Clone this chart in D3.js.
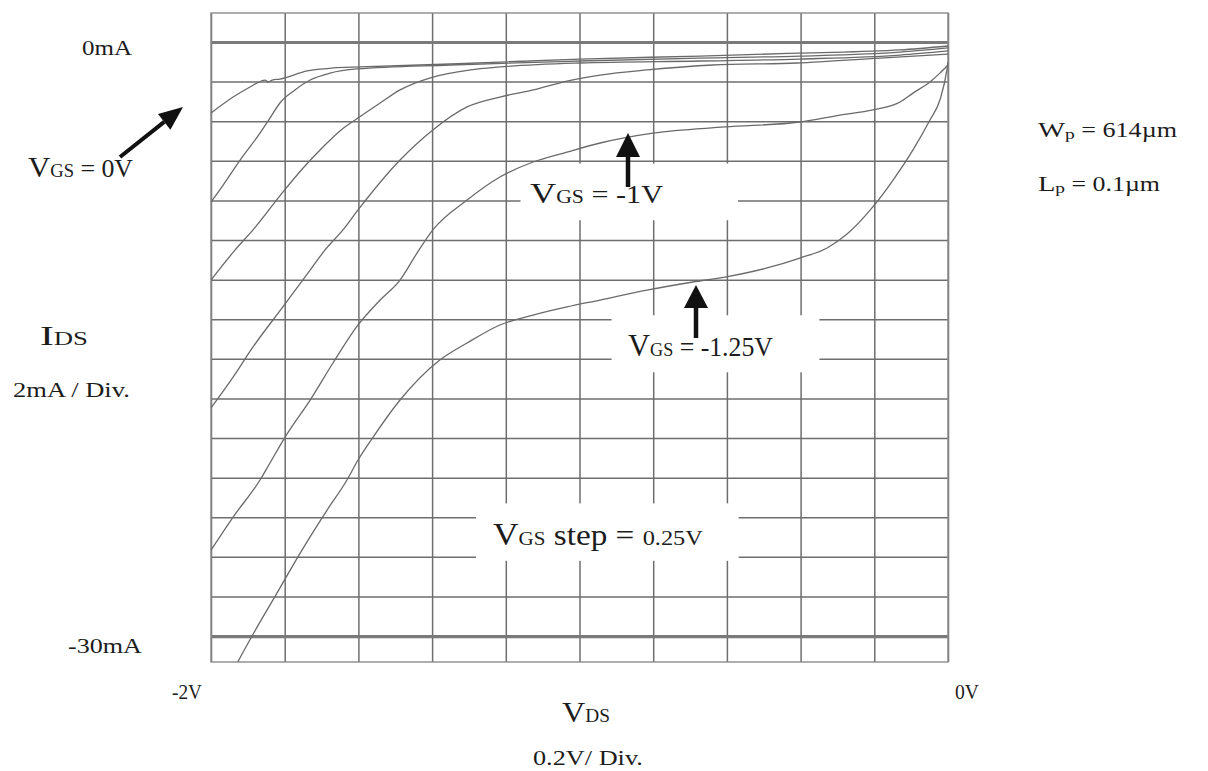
<!DOCTYPE html>
<html>
<head>
<meta charset="utf-8">
<script src="https://cdn.jsdelivr.net/npm/d3@7"></script>
<style>
  html, body { margin: 0; padding: 0; background: #fff; }
  svg { display: block; }
  text { font-family: "Liberation Serif", "Times New Roman", serif; fill: #1c1c1c; }
</style>
</head>
<body>
<svg id="chart" width="1208" height="771"></svg>
<script>
// Measured I-V traces of a p-channel device, VDS in volts, IDS in mA
const vgsSteps = ["0V", "-0.25V", "-0.5V", "-0.75V", "-1V", "-1.25V"];

const traceVgs0 = [[-2.000,-3.59],[-1.940,-2.78],[-1.894,-2.27],[-1.853,-1.92],[-1.845,-2.02],[-1.834,-1.92],
  [-1.813,-1.87],[-1.739,-1.46],[-1.669,-1.31],[-1.596,-1.26],[-1.351,-1.11],[-0.999,-0.86],[-0.673,-0.71],
  [-0.402,-0.56],[-0.130,-0.40],[0.000,-0.20]];
const traceVgs025 = [[-2.000,-8.08],[-1.976,-7.47],[-1.921,-5.96],[-1.867,-4.60],[-1.840,-3.84],[-1.813,-3.08],
  [-1.772,-2.42],[-1.731,-1.92],[-1.677,-1.57],[-1.604,-1.36],[-1.351,-1.16],[-0.999,-0.96],[-0.673,-0.81],
  [-0.402,-0.71],[-0.130,-0.51],[0.000,-0.30]];
const traceVgs050 = [[-2.000,-12.02],[-1.935,-10.51],[-1.886,-9.49],[-1.805,-7.58],[-1.750,-6.36],[-1.696,-5.30],
  [-1.650,-4.49],[-1.601,-3.84],[-1.541,-3.08],[-1.487,-2.42],[-1.398,-1.77],[-1.297,-1.41],[-1.216,-1.26],
  [-0.999,-1.06],[-0.673,-0.96],[-0.402,-0.86],[-0.130,-0.66],[0.000,-0.45]];
const traceVgs075 = [[-2.000,-18.48],[-1.940,-16.92],[-1.886,-15.40],[-1.805,-13.38],[-1.731,-11.52],[-1.691,-10.51],
  [-1.642,-9.49],[-1.601,-8.48],[-1.487,-5.96],[-1.398,-4.44],[-1.305,-3.28],[-1.216,-2.78],[-1.126,-2.42],
  [-1.034,-1.97],[-0.944,-1.67],[-0.817,-1.41],[-0.638,-1.16],[-0.410,-1.06],[-0.185,-0.81],[0.000,-0.61]];
const traceVgs100 = [[-2.000,-25.66],[-1.940,-23.99],[-1.867,-22.12],[-1.840,-21.26],[-1.799,-19.95],[-1.731,-18.08],
  [-1.669,-16.21],[-1.601,-14.29],[-1.541,-13.03],[-1.487,-12.02],[-1.441,-10.66],[-1.398,-9.49],[-1.305,-7.98],
  [-1.216,-6.82],[-1.126,-6.06],[-1.034,-5.56],[-0.944,-5.10],[-0.801,-4.60],[-0.605,-4.29],[-0.402,-4.04],
  [-0.293,-3.69],[-0.204,-3.43],[-0.130,-3.03],[-0.095,-2.58],[-0.049,-2.02],[-0.022,-1.57],[0.000,-1.16]];
const traceVgs125 = [[-1.929,-31.36],[-1.875,-29.55],[-1.821,-27.83],[-1.758,-25.81],[-1.685,-23.64],[-1.631,-22.12],
  [-1.601,-21.11],[-1.560,-19.95],[-1.487,-18.08],[-1.379,-16.06],[-1.305,-15.20],[-1.216,-14.29],[-1.126,-13.79],
  [-1.034,-13.38],[-0.944,-13.03],[-0.817,-12.53],[-0.692,-12.12],[-0.605,-11.87],[-0.491,-11.41],[-0.402,-10.91],
  [-0.328,-10.40],[-0.274,-9.70],[-0.204,-8.33],[-0.149,-6.97],[-0.095,-5.45],[-0.049,-3.94],[-0.022,-2.93],
  [-0.003,-1.41],[0.000,-1.01]];

const traces = [traceVgs0, traceVgs025, traceVgs050, traceVgs075, traceVgs100, traceVgs125];

// Graticule: 0.2 V per division across, 2 mA per division down
const vdsGrid = [-2.0,-1.8,-1.6,-1.4,-1.2,-1.0,-0.8,-0.6,-0.4,-0.2,0.0];
const idsGrid = [0,-2,-4,-6,-8,-10,-12,-14,-16,-18,-20,-22,-24,-26,-28,-30];
const idsMarked = [0, -30];
const idsTickLabels = ["0mA", "-30mA"];
const vdsTickLabels = ["-2V", "0V"];

const svg = d3.select("#chart");
const plot = { left: 211, right: 948, top: 13, bottom: 662 };

const x = d3.scaleLinear().domain([-2, 0]).range([plot.left, plot.right]);
const y = d3.scaleLinear().domain([-31.31, 1.465]).range([plot.bottom, plot.top]);

svg.append("defs").append("clipPath").attr("id", "plotClip")
  .append("rect")
  .attr("x", plot.left).attr("y", plot.top)
  .attr("width", plot.right - plot.left).attr("height", plot.bottom - plot.top);

// Grid lines via axes with full-length ticks
const gridColor = "#6e6e6e";
const gx = svg.append("g")
  .attr("transform", `translate(0,${plot.bottom})`)
  .call(d3.axisBottom(x).tickValues(vdsGrid).tickSize(-(plot.bottom - plot.top)).tickFormat(""));
const gy = svg.append("g")
  .attr("transform", `translate(${plot.left},0)`)
  .call(d3.axisLeft(y).tickValues(idsGrid).tickSize(-(plot.right - plot.left)).tickFormat(""));
[gx, gy].forEach(g => {
  g.select(".domain").remove();
  g.selectAll(".tick line").attr("stroke", gridColor).attr("stroke-width", 1.5);
});
gy.selectAll(".tick line")
  .filter(d => idsMarked.includes(d))
  .attr("stroke", "#7a7a7a").attr("stroke-width", 3.2);

// Outer frame
svg.append("rect")
  .attr("x", plot.left).attr("y", plot.top)
  .attr("width", plot.right - plot.left).attr("height", plot.bottom - plot.top)
  .attr("fill", "none").attr("stroke", "#8c8c8c").attr("stroke-width", 1.4);

// White panels behind the in-plot annotations
const panels = [
  { x0: -1.16, x1: -0.57, y0: -6.14, y1: -9.0 },
  { x0: -0.913, x1: -0.349, y0: -13.8, y1: -16.68 },
  { x0: -1.281, x1: -0.568, y0: -23.3, y1: -26.2 }
];
svg.append("g").selectAll("rect").data(panels).join("rect")
  .attr("x", d => x(d.x0)).attr("y", d => y(d.y0))
  .attr("width", d => x(d.x1) - x(d.x0)).attr("height", d => y(d.y1) - y(d.y0))
  .attr("fill", "#fff");

// Traces
const line = d3.line().x(d => x(d[0])).y(d => y(d[1])).curve(d3.curveMonotoneX);
svg.append("g").attr("clip-path", "url(#plotClip)")
  .selectAll("path").data(traces).join("path")
  .attr("d", line)
  .attr("fill", "none")
  .attr("stroke", "#6a6a6a")
  .attr("stroke-width", 1.3)
  .attr("stroke-linejoin", "round");

// Text helpers: rich text from [string, size, dy] runs, stretched to a target width
function richText(parts, x0, baseline, width) {
  const t = svg.append("text").attr("x", x0).attr("y", baseline);
  parts.forEach(p => {
    t.append("tspan").text(p[0]).attr("font-size", p[1]).attr("dy", p[2] || 0);
  });
  if (width) {
    const w = t.node().getComputedTextLength();
    const s = width / w;
    t.attr("transform", `translate(${x0},0) scale(${s},1) translate(${-x0},0)`);
  }
  return t;
}

// Axis end labels
richText([[idsTickLabels[0], 20]], 82, 55, 50);
richText([[idsTickLabels[1], 20]], 68, 653, 74);
richText([[vdsTickLabels[0], 20]], 172, 699, 30);
richText([[vdsTickLabels[1], 20]], 955, 699, 24);

// Axis titles
richText([["V", 30], ["DS", 18]], 562, 722, 48);
richText([["0.2V/ Div.", 21]], 533, 765, 110);
richText([["I", 28], ["DS", 18]], 40, 345, 48);
richText([["2mA / Div.", 22]], 13, 397, 117);

// Gate-voltage annotations
richText([["V", 30], ["GS", 18], [" = 0V", 25]], 28, 177, 105);
richText([["V", 30], ["GS", 18], [" = -1V", 25]], 530, 203, 133);
richText([["V", 32], ["GS", 19], [" = -1.25V", 27]], 628, 356, 145);
richText([["V", 32], ["GS", 19], [" step = ", 30], ["0.25V", 22]], 493, 545, 210);

// Device geometry
richText([["W", 22], ["p", 15, 2], [" = 614\u00b5m", 20, -2]], 1038, 137, 139);
richText([["L", 22], ["p", 15, 2], [" = 0.1\u00b5m", 20, -2]], 1038, 191, 122);

// Arrows
function arrow(x1, y1, x2, y2, head, halfW, sw) {
  const ang = Math.atan2(y2 - y1, x2 - x1);
  const bx = x2 - head * Math.cos(ang), by = y2 - head * Math.sin(ang);
  svg.append("line")
    .attr("x1", x1).attr("y1", y1).attr("x2", bx).attr("y2", by)
    .attr("stroke", "#111").attr("stroke-width", sw);
  const px = -Math.sin(ang) * halfW, py = Math.cos(ang) * halfW;
  svg.append("path")
    .attr("d", `M${x2},${y2}L${bx + px},${by + py}L${bx - px},${by - py}Z`)
    .attr("fill", "#111");
}
arrow(120, 157, 183, 107, 24, 10, 4);
arrow(628, 187, 628, 133, 24, 12, 4.5);
arrow(696, 338, 696, 285, 23, 12, 4.5);
</script>
</body>
</html>
